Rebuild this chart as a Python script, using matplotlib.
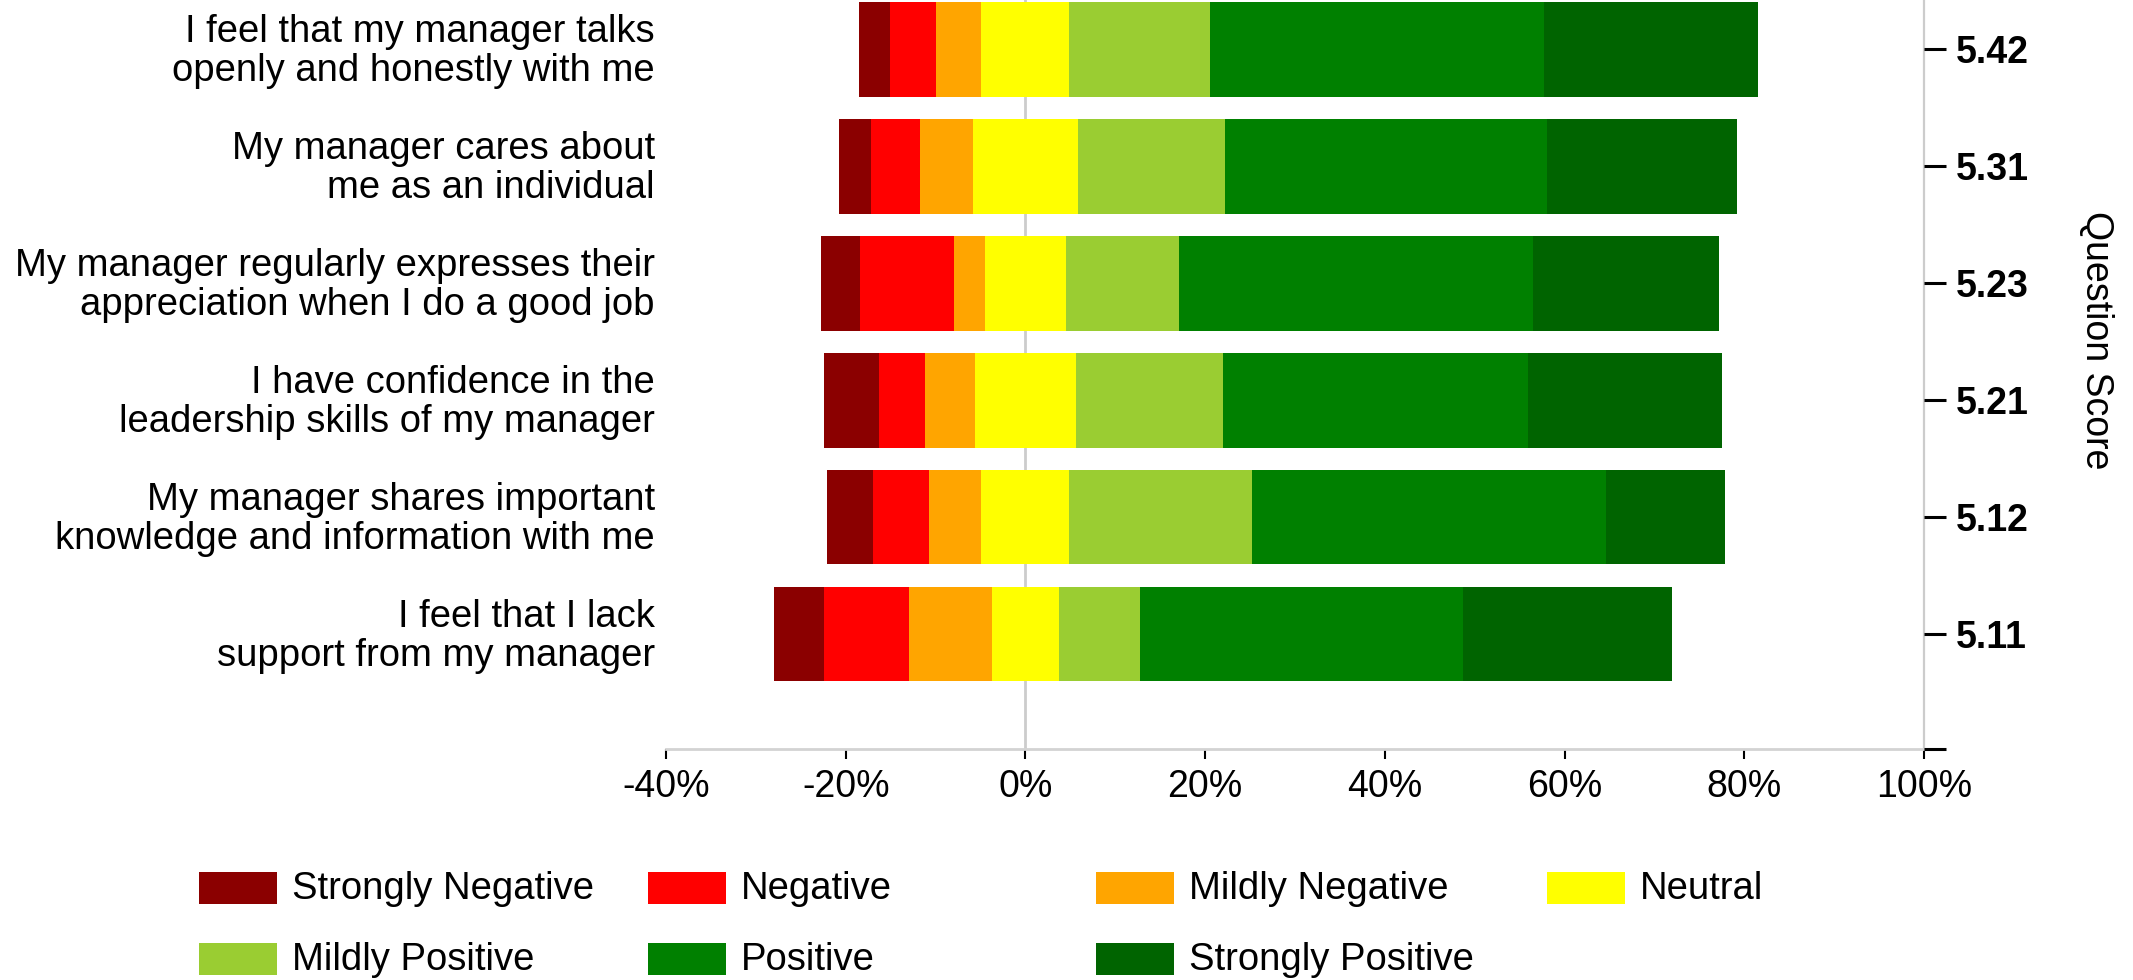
"""
Diverging stacked bar chart of manager-related survey questions,
with the question score shown on a secondary axis.
"""

import numpy as np
import matplotlib
matplotlib.use('Agg')
import matplotlib.pyplot as plt
import matplotlib.transforms as mtransforms
from matplotlib.patches import Rectangle

plt.rcParams['font.family'] = ['Liberation Sans', 'DejaVu Sans']


# ── Data ──────────────────────────────────────────────────────────────────────

questions = [
    'I feel that my manager talks\nopenly and honestly with me',
    'My manager cares about\nme as an individual',
    'My manager regularly expresses their\nappreciation when I do a good job',
    'I have confidence in the\nleadership skills of my manager',
    'My manager shares important\nknowledge and information with me',
    'I feel that I lack\nsupport from my manager',
]
scores = [5.42, 5.31, 5.23, 5.21, 5.12, 5.11]

categories = ['Strongly Negative', 'Negative', 'Mildly Negative', 'Neutral',
              'Mildly Positive', 'Positive', 'Strongly Positive']
colors = ['#8b0000', '#ff0000', '#ffa500', '#ffff00',
          '#9acd32', '#008000', '#006400']

# % of answers per category, one value per question (top to bottom)
strongly_negative = [3.4, 3.6, 4.4, 6.2, 5.1, 5.6]
negative          = [5.1, 5.5, 10.5, 5.1, 6.3, 9.4]
mildly_negative   = [5.1, 5.9, 3.4, 5.5, 5.8, 9.3]
neutral           = [9.8, 11.6, 9.0, 11.3, 9.8, 7.4]
mildly_positive   = [15.6, 16.4, 12.6, 16.3, 20.3, 9.0]
positive          = [37.2, 35.9, 39.4, 34.0, 39.4, 36.0]
strongly_positive = [23.8, 21.1, 20.7, 21.6, 13.3, 23.3]

xticks = [-40, -20, 0, 20, 40, 60, 80, 100]


# ── Figure ────────────────────────────────────────────────────────────────────

W, H = 2133, 980
fig = plt.figure(figsize=(W / 100, H / 100), dpi=100)
ax = fig.add_axes([666 / W, 1 - 749 / H, (1924 - 666) / W, 749 / H])

values = np.array([strongly_negative, negative, mildly_negative, neutral,
                   mildly_positive, positive, strongly_positive])
# the neutral block is centred on 0
start = -(values[:3].sum(axis=0) + values[3] / 2)
lefts = start + np.vstack([np.zeros(values.shape[1]), np.cumsum(values, axis=0)[:-1]])

y = np.arange(len(questions))
ax.axvline(0, color='#cccccc', linewidth=2, zorder=0)
for vals, left, col in zip(values, lefts, colors):
    ax.barh(y, vals, left=left, height=0.81, color=col, linewidth=0, zorder=2)

y_top, y_bottom = -0.423, 5.984
ax.set_xlim(-40, 100)
ax.set_ylim(y_bottom, y_top)

ax.set_xticks(xticks)
ax.set_xticklabels([f'{t}%' for t in xticks], fontsize=27)
ax.tick_params(axis='x', length=7, width=1.5, color='black', pad=7.5)

ax.set_yticks(y)
ax.set_yticklabels(questions, fontsize=27.5)
ax.tick_params(axis='y', length=0, pad=8)
shift_up = mtransforms.ScaledTranslation(0, 3 / 100, fig.dpi_scale_trans)
for lbl in ax.get_yticklabels():
    lbl.set_linespacing(1.1)
    lbl.set_transform(lbl.get_transform() + shift_up)

for side in ('left', 'top'):
    ax.spines[side].set_visible(False)
ax.spines['bottom'].set_color('#d3d3d3')
ax.spines['bottom'].set_linewidth(2)
ax.spines['right'].set_color('#cccccc')
ax.spines['right'].set_linewidth(1.6)

# Score axis on the right
ax2 = ax.twinx()
ax2.set_ylim(y_bottom, y_top)
ax2.set_yticks(list(y) + [y_bottom])
ax2.set_yticklabels([f'{s:.2f}' for s in scores] + [''], fontsize=27, fontweight='bold')
ax2.tick_params(axis='y', length=16, width=2.2, color='black', pad=7)
for s in ax2.spines.values():
    s.set_visible(False)

fig.text(2096 / W, 1 - 340 / H, 'Question Score', rotation=270,
         ha='center', va='center', fontsize=27)


# ── Legend (4 columns, row by row) ───────────────────────────────────────────

col_x = [199, 648, 1096, 1547]
row_y = [888, 959]
for i, (cat, col) in enumerate(zip(categories, colors)):
    x0 = col_x[i % 4]
    yc = row_y[i // 4]
    fig.add_artist(Rectangle((x0 / W, 1 - (yc + 16) / H), 78 / W, 32 / H,
                             transform=fig.transFigure, color=col, linewidth=0))
    fig.text((x0 + 93) / W, 1 - (yc + 1) / H, cat, ha='left', va='center', fontsize=27.5)

fig.savefig('out.png', dpi=100)
